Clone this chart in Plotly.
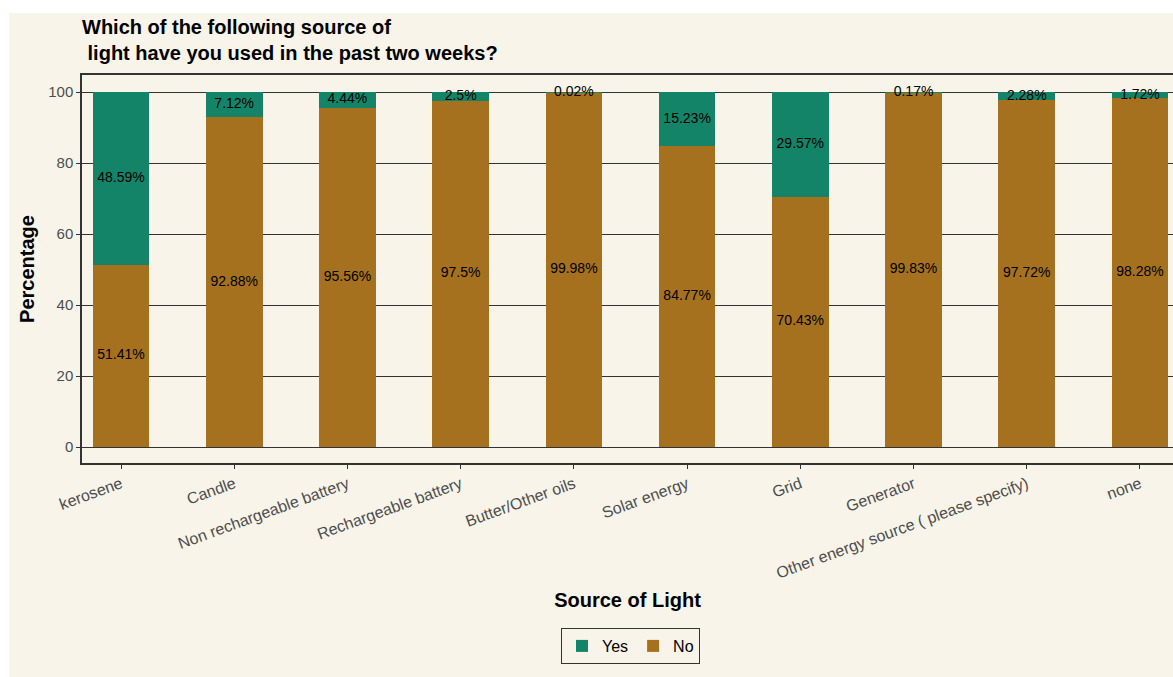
import plotly.graph_objects as go

categories = ["kerosene", "Candle", "Non rechargeable battery", "Rechargeable battery",
              "Butter/Other oils", "Solar energy", "Grid", "Generator",
              "Other energy source ( please specify)", "none"]
yes_values = [48.59, 7.12, 4.44, 2.5, 0.02, 15.23, 29.57, 0.17, 2.28, 1.72]
no_values = [51.41, 92.88, 95.56, 97.5, 99.98, 84.77, 70.43, 99.83, 97.72, 98.28]
y_ticks = [0, 20, 40, 60, 80, 100]

YES_COLOR = "#138468"
NO_COLOR = "#A6711F"
BG = "#F8F4EA"
FONT = "Liberation Sans, Arial, sans-serif"

def fmt(v):
    return ("%g" % v) + "%"

fig = go.Figure()
fig.add_trace(go.Bar(x=categories, y=no_values, name="No", marker_color=NO_COLOR,
                     marker_line_width=0, width=0.5, hoverinfo="skip"))
fig.add_trace(go.Bar(x=categories, y=yes_values, name="Yes", marker_color=YES_COLOR,
                     marker_line_width=0, width=0.5, hoverinfo="skip"))

no_mid = [n / 2 for n in no_values]
yes_mid = [n + y / 2 for n, y in zip(no_values, yes_values)]
fig.add_trace(go.Scatter(x=categories, y=no_mid, mode="text", text=[fmt(v) for v in no_values],
                         textfont=dict(size=14, color="black", family=FONT),
                         showlegend=False, hoverinfo="skip", cliponaxis=False))
fig.add_trace(go.Scatter(x=categories, y=yes_mid, mode="text", text=[fmt(v) for v in yes_values],
                         textfont=dict(size=14, color="black", family=FONT),
                         showlegend=False, hoverinfo="skip", cliponaxis=False))

W, H = 1173, 677
L, R, T, B = 82, 0, 75, 214
pw = W - L - R
ph = H - T - B

fig.update_layout(
    width=W, height=H,
    margin=dict(l=L, r=R, t=T, b=B, pad=0),
    barmode="stack",
    paper_bgcolor="white",
    plot_bgcolor=BG,
    font=dict(family=FONT, color="#4D4D4D"),
    title=dict(text="Which of the following source of<br>\u00a0light have you used in the past two weeks?",
               x=0, xref="paper", xanchor="left",
               y=1 - 34 / H, yref="container", yanchor="top",
               font=dict(size=20, color="black", family=FONT, weight="bold")),
    xaxis=dict(range=[-0.3445, (W - 121) / 113.22], showgrid=False, zeroline=False,
               showline=True, mirror=True, linecolor="#333333", linewidth=1.5,
               ticks="outside", ticklen=4, tickcolor="#333333", tickwidth=1,
               tickangle=-20, tickfont=dict(size=16, color="#4D4D4D"),
               title=dict(text="Source of Light", standoff=12,
                          font=dict(size=20, color="black", weight="bold"))),
    yaxis=dict(range=[-4.507, 104.79], tickvals=y_ticks, showgrid=True,
               gridcolor="#333333", gridwidth=1, zeroline=False,
               showline=True, mirror=False, linecolor="#333333", linewidth=1.5,
               ticks="outside", ticklen=4, tickcolor="#333333", tickwidth=1,
               tickfont=dict(size=15, color="#4D4D4D"),
               title=dict(text="Percentage", standoff=8,
                          font=dict(size=20, color="black", weight="bold"))),
    legend=dict(orientation="h", traceorder="reversed",
                x=(630.5 - L) / pw, xanchor="center", y=(ph + T - 628) / ph - 0, yanchor="top",
                bgcolor=BG, bordercolor="#333333", borderwidth=1,
                font=dict(size=16, color="black")),
    shapes=[dict(type="rect", xref="paper", yref="paper", layer="below",
                 x0=(9 - L) / pw, x1=1.01, y0=(T + ph - H - 5) / ph, y1=(T + ph - 13) / ph,
                 fillcolor=BG, line=dict(width=0))],
)

fig.write_html("out.html")
